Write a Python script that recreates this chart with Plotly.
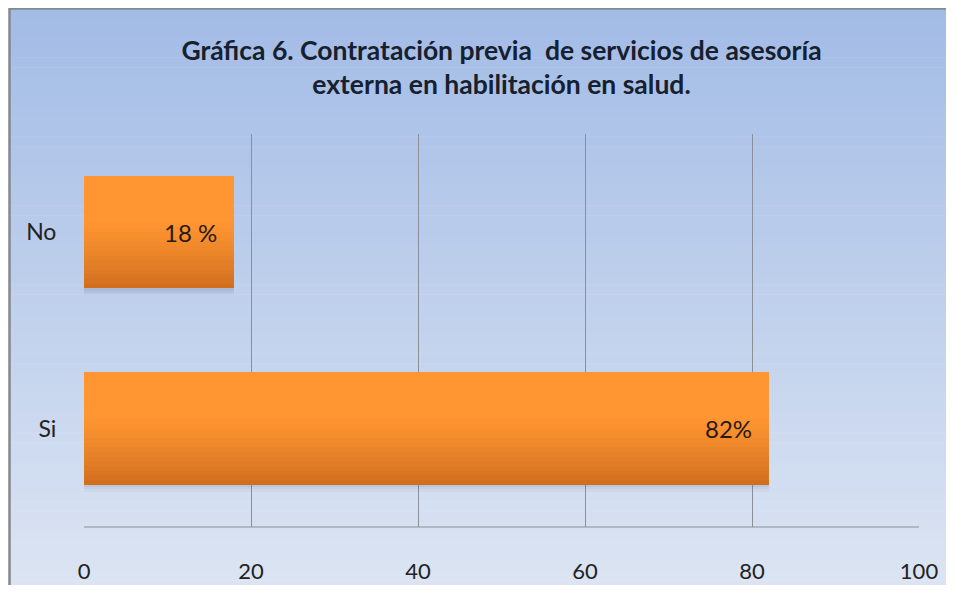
import plotly.graph_objects as go

# ---- data ----
categories = ["Si", "No"]
values = [82, 18]
value_labels = ["82%", "18 %"]
x_ticks = [0, 20, 40, 60, 80, 100]
title_text = "Gráfica 6. Contratación previa  de servicios de asesoría<br>externa en habilitación en salud."

# the page body has an 8px margin on every side: size the figure so the page is exactly 954x593
OFF = 8
SW, SH = 954, 593
W, H = SW - 2 * OFF, SH - 2 * OFF
# plot area in screen pixels
SX0, SX1, SY0, SY1 = 84, 919, 134, 527
L, R, T, B = SX0 - OFF, W - (SX1 - OFF), SY0 - OFF, H - (SY1 - OFF)
PW, PH = W - L - R, H - T - B

def px_x(sx):
    return (sx - SX0) / PW

def px_y(sy):
    return (SY1 - sy) / PH

def lerp(c1, c2, t):
    return "rgb(%d,%d,%d)" % tuple(round(a + (b - a) * t) for a, b in zip(c1, c2))

FONT = "Lato, Carlito, sans-serif"

fig = go.Figure()

bar_w = 0.57
N = 24
dark = (206, 108, 30)
bright = (255, 150, 50)
for j, a in enumerate([0.16, 0.09, 0.04]):
    fig.add_trace(go.Bar(
        y=categories, x=values, orientation="h",
        width=0.012, offset=-bar_w / 2 - 0.012 * (j + 1),
        marker=dict(color="rgba(70,80,100,%.2f)" % a, line=dict(width=0)),
        hoverinfo="skip", showlegend=False))
for i in range(N):
    t = (i + 0.5) / N
    tt = min(1.0, t / 0.6)
    fig.add_trace(go.Bar(
        y=categories, x=values, orientation="h",
        width=bar_w / N + 0.002, offset=-bar_w / 2 + i * bar_w / N,
        marker=dict(color=lerp(dark, bright, tt ** 0.8), line=dict(width=0)),
        hoverinfo="skip", showlegend=False))

for c, v, lab in zip(categories, values, value_labels):
    fig.add_annotation(x=v, y=c, text=lab, showarrow=False, xanchor="right",
                       xshift=-15, font=dict(family=FONT, size=24, color="#2a1a10"))

# background gradient
shapes = []
top_c = (163, 188, 230)
bot_c = (221, 229, 243)
y_top, y_bot = 8, 600
steps = 60
for k in range(steps):
    a = y_top + (y_bot - y_top) * k / steps
    b = y_top + (y_bot - y_top) * (k + 1) / steps
    shapes.append(dict(type="rect", xref="paper", yref="paper",
                       x0=px_x(9), x1=px_x(970), y0=px_y(b + 0.5), y1=px_y(a),
                       fillcolor=lerp(top_c, bot_c, k / (steps - 1)), line=dict(width=0), layer="below"))
# border
shapes.append(dict(type="rect", xref="paper", yref="paper",
                   x0=px_x(9.5), x1=px_x(990), y0=px_y(640), y1=px_y(8.5),
                   fillcolor="rgba(0,0,0,0)", line=dict(color="#84888f", width=2.5), layer="below"))
# bottom axis line
shapes.append(dict(type="line", xref="paper", yref="paper", x0=0, x1=1, y0=0, y1=0,
                   line=dict(color="#8a8f98", width=1.2), layer="above"))

fig.update_layout(
    width=W, height=H,
    margin=dict(l=L, r=R, t=T, b=B, pad=0, autoexpand=False),
    paper_bgcolor="white", plot_bgcolor="rgba(0,0,0,0)",
    barmode="overlay", bargap=0,
    shapes=shapes,
    title=dict(text=title_text, x=0.5, xref="paper", xanchor="center",
               y=1 - (60 - OFF) / H, yanchor="middle", automargin=False,
               font=dict(family=FONT, size=26.5, color="#16202e", weight="bold")),
    xaxis=dict(range=[0, 100], tickvals=x_ticks, showgrid=True, gridcolor="#8a8f98", gridwidth=1.2,
               zeroline=False, showline=False, ticks="outside", ticklen=25, tickcolor="rgba(0,0,0,0)",
               automargin=False,
               tickfont=dict(family=FONT, size=22, color="#222222"), fixedrange=True),
    yaxis=dict(type="category", categoryorder="array", categoryarray=categories,
               range=[-0.5, 1.5], showgrid=False, zeroline=False, showline=False,
               ticks="outside", ticklen=22, tickcolor="rgba(0,0,0,0)", automargin=False,
               tickfont=dict(family=FONT, size=23, color="#222222")),
    showlegend=False,
)

fig.write_html("out.html")
